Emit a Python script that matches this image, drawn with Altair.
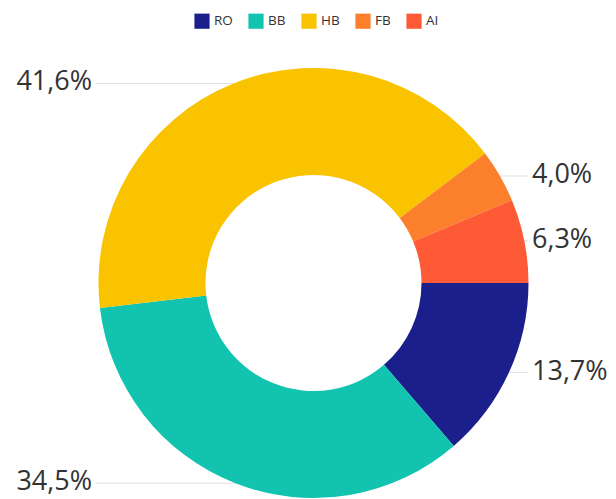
import altair as alt
import pandas as pd

categories = ["RO", "BB", "HB", "FB", "AI"]
values = [13.7, 34.5, 41.6, 4.0, 6.3]
labels = ["13,7%", "34,5%", "41,6%", "4,0%", "6,3%"]
colors = ["#1a1f8c", "#12c3b0", "#f9c300", "#fc7f2c", "#fd5a35"]

df = pd.DataFrame({
    "cat": categories,
    "value": values,
    "label": labels,
    "order": list(range(len(categories))),
})

CX, CY = 305.5, 275.0
R_OUT, R_IN = 215, 108
PI = 3.141592653589793

base = alt.Chart(df)

arc = base.mark_arc(outerRadius=R_OUT, innerRadius=R_IN, stroke=None).encode(
    theta=alt.Theta("value:Q", stack=True, scale=alt.Scale(range=[PI / 2, PI / 2 + 2 * PI])),
    color=alt.Color(
        "cat:N",
        scale=alt.Scale(domain=categories, range=colors),
        sort=categories,
        legend=alt.Legend(
            orient="none", legendX=186, legendY=5, direction="horizontal", title=None,
            symbolType="square", symbolSize=230, symbolStrokeWidth=0,
            labelFont="Open Sans", labelFontSize=13.5, labelColor="#333333",
            columnPadding=15, labelOffset=4,
        ),
    ),
    order=alt.Order("order:Q"),
    x=alt.value(CX),
    y=alt.value(CY),
)

geo = base.transform_joinaggregate(total="sum(value)").transform_window(
    cum="sum(value)", sort=[alt.SortField("order")], frame=[None, 0]
).transform_calculate(
    ang="(datum.cum - datum.value / 2) / datum.total * 2 * PI",
).transform_calculate(
    ax=f"{CX} + {R_OUT} * cos(datum.ang)",
    ay=f"{CY} + {R_OUT} * sin(datum.ang)",
    side="cos(datum.ang) < 0 ? 'L' : 'R'",
).transform_calculate(
    lx="datum.side == 'L' ? 87 : 520",
)

rules = geo.mark_rule(color="#e0e0e0", strokeWidth=1).encode(
    x=alt.X("ax:Q", scale=None),
    x2="lx:Q",
    y=alt.Y("ay:Q", scale=None),
)

text_l = geo.transform_filter("datum.side == 'L'").mark_text(
    align="right", baseline="middle", font="Open Sans", fontSize=27, color="#333333", dy=-1
).encode(
    x=alt.value(84),
    y=alt.Y("ay:Q", scale=None),
    text="label:N",
)

text_r = geo.transform_filter("datum.side == 'R'").mark_text(
    align="left", baseline="middle", font="Open Sans", fontSize=27, color="#333333", dy=-1
).encode(
    x=alt.value(524),
    y=alt.Y("ay:Q", scale=None),
    text="label:N",
)

chart = alt.layer(rules, arc, text_l, text_r).properties(
    width=600, height=491, autosize=alt.AutoSizeParams(type="none"), padding=0
).configure_view(stroke=None)

chart.save("out.html", embed_options={"renderer": "svg", "actions": False})
